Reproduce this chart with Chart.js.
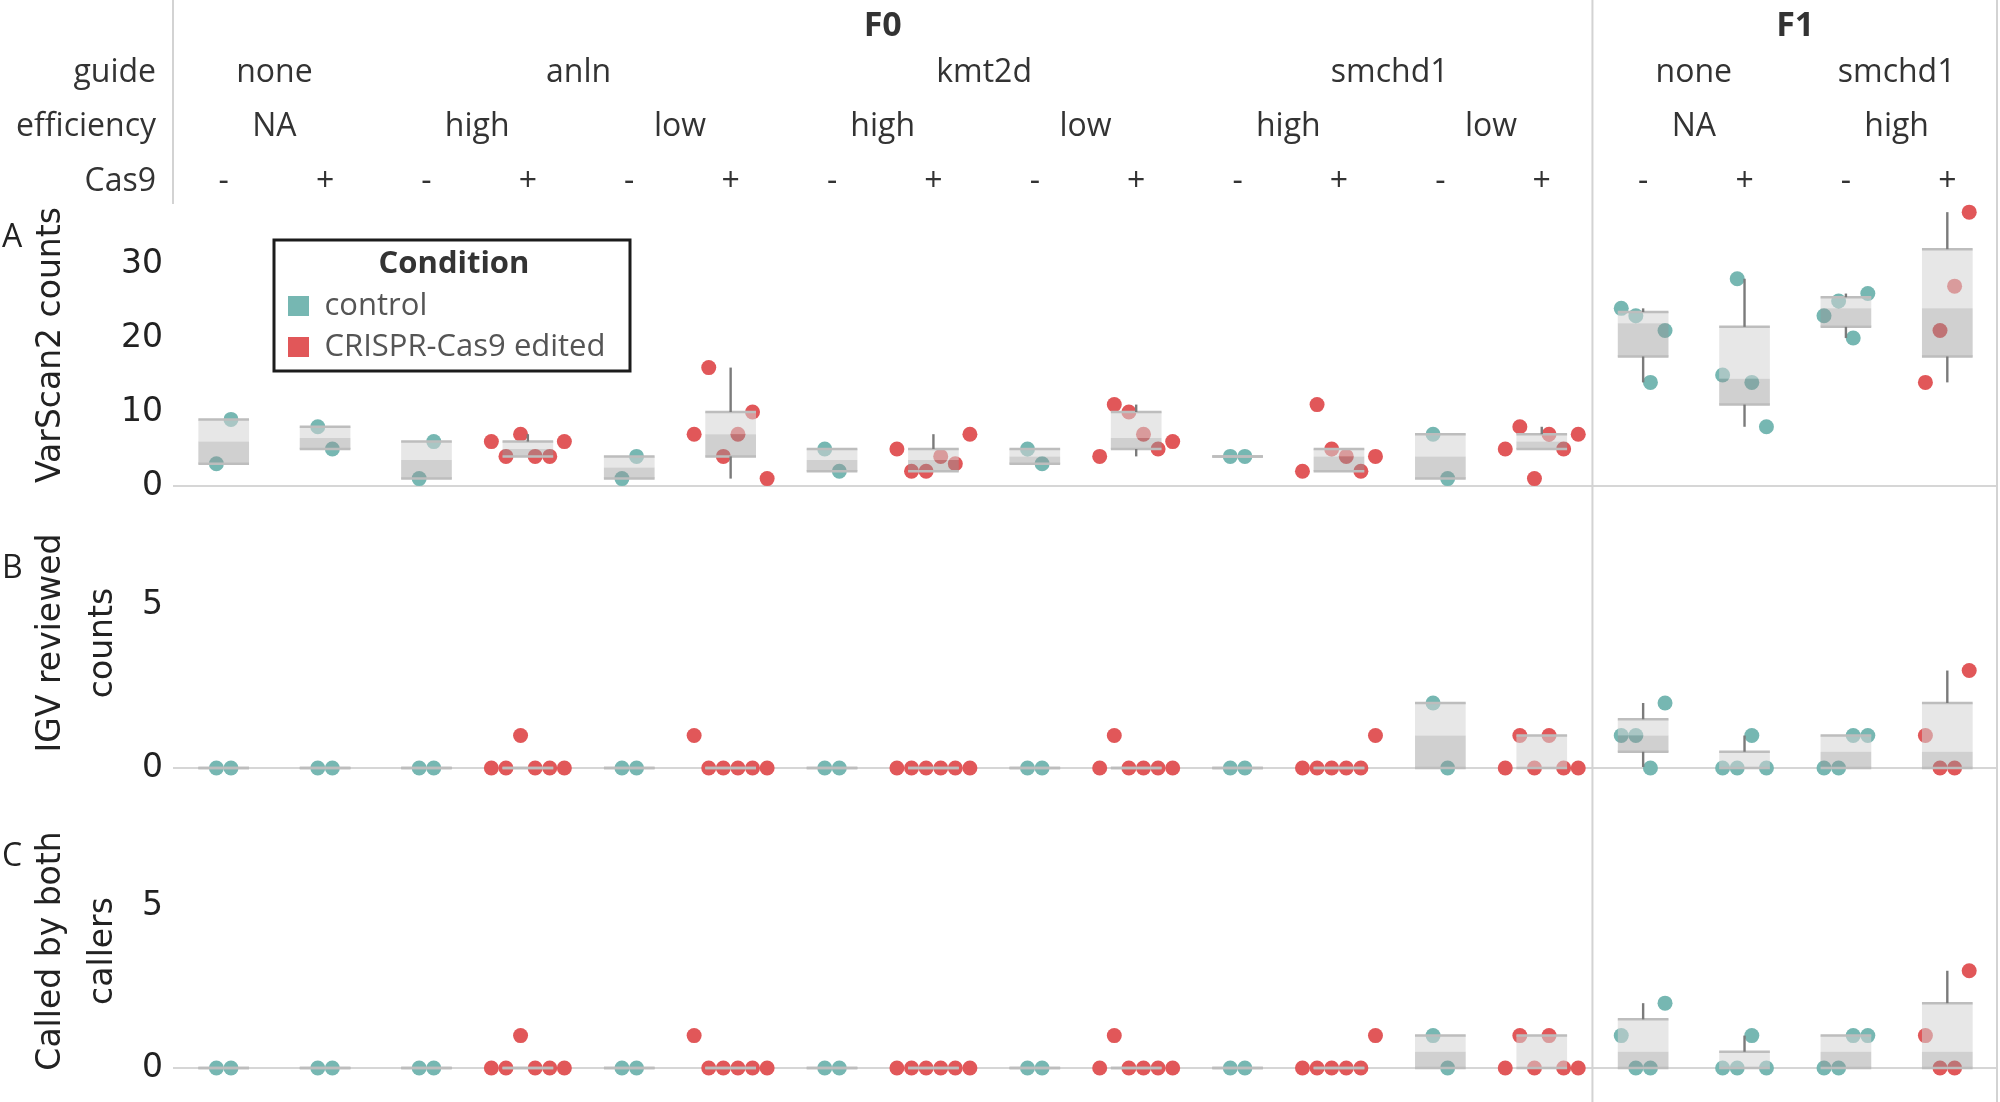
<!DOCTYPE html>
<html>
<head>
<meta charset="utf-8">
<script src="https://cdn.jsdelivr.net/npm/chart.js@4.4.1/dist/chart.umd.min.js"></script>
<style>
  html, body { margin: 0; padding: 0; background: #ffffff; overflow: hidden; }
  #wrap { width: 2000px; height: 1102px; position: relative; }
  #wrap canvas { display: block; }
</style>
</head>
<body>
<div id="wrap"><canvas id="chart"></canvas></div>
<script>
// ---------------- data ----------------
const generationLabels = ['F0', 'F1'];
const generationSpans = [14, 4];
const guideLabels = ['none', 'anln', 'kmt2d', 'smchd1', 'none', 'smchd1'];
const guideSpans = [2, 4, 4, 4, 2, 2];
const efficiencyLabels = ['NA', 'high', 'low', 'high', 'low', 'high', 'low', 'NA', 'high'];
const efficiencySpans = [2, 2, 2, 2, 2, 2, 2, 2, 2];
const cas9Labels = ['-', '+', '-', '+', '-', '+', '-', '+', '-', '+', '-', '+', '-', '+', '-', '+', '-', '+'];
const headerRowTitles = ['guide', 'efficiency', 'Cas9'];

const columnCondition = ['control', 'control', 'control', 'edited', 'control', 'edited', 'control', 'edited',
  'control', 'edited', 'control', 'edited', 'control', 'edited', 'control', 'control', 'control', 'edited'];
const conditionKeys = ['control', 'edited'];
const conditionNames = ['control', 'CRISPR-Cas9 edited'];

// values per column, in sample order (left to right within a column)
const varscanCounts = [
  [3, 9], [8, 5], [1, 6], [6, 4, 7, 4, 4, 6], [1, 4], [7, 16, 4, 7, 10, 1],
  [5, 2], [5, 2, 2, 4, 3, 7], [5, 3], [4, 11, 10, 7, 5, 6], [4, 4], [2, 11, 5, 4, 2, 4],
  [7, 1], [5, 8, 1, 7, 5, 7], [24, 23, 14, 21], [15, 28, 14, 8], [23, 25, 20, 26], [14, 21, 27, 37]
];
const igvCounts = [
  [0, 0], [0, 0], [0, 0], [0, 0, 1, 0, 0, 0], [0, 0], [1, 0, 0, 0, 0, 0],
  [0, 0], [0, 0, 0, 0, 0, 0], [0, 0], [0, 1, 0, 0, 0, 0], [0, 0], [0, 0, 0, 0, 0, 1],
  [2, 0], [0, 1, 0, 1, 0, 0], [1, 1, 0, 2], [0, 0, 1, 0], [0, 0, 1, 1], [1, 0, 0, 3]
];
const bothCallerCounts = [
  [0, 0], [0, 0], [0, 0], [0, 0, 1, 0, 0, 0], [0, 0], [1, 0, 0, 0, 0, 0],
  [0, 0], [0, 0, 0, 0, 0, 0], [0, 0], [0, 1, 0, 0, 0, 0], [0, 0], [0, 0, 0, 0, 0, 1],
  [1, 0], [0, 1, 0, 1, 0, 0], [1, 0, 0, 2], [0, 0, 1, 0], [0, 0, 1, 1], [1, 0, 0, 3]
];

const panelTitles = ['VarScan2 counts', ['IGV reviewed', 'counts'], ['Called by both', 'callers']];
const panelLetters = ['A', 'B', 'C'];
const yTicksA = [0, 10, 20, 30];
const yTicksB = [0, 5];
const yTicksC = [0, 5];

// ---------------- styles ----------------
const conditionColors = { control: '#76b7b2', edited: '#e15759' };
const JITTER = 0.144;
const FONT = 'Open Sans';
const AXFONT = 'DejaVu Sans';

// ---------------- helpers ----------------
function expand(labels, spans) { return labels.flatMap((l, i) => Array(spans[i]).fill(l)); }
function spanCenters(spans) { let s = 0; return spans.map(n => { const c = s + (n - 1) / 2; s += n; return c; }); }
const genCol = expand(generationLabels, generationSpans);
const guideCol = expand(guideLabels, guideSpans);
const effCol = expand(efficiencyLabels, efficiencySpans);
const columnKeys = cas9Labels.map((c, i) => [genCol[i], guideCol[i], effCol[i], c].join(' '));
const NCOL = columnKeys.length;

function median(s) { const n = s.length; const h = Math.floor(n / 2); return n % 2 ? s[h] : (s[h - 1] + s[h]) / 2; }
function boxStats(values) {
  const s = [...values].sort((a, b) => a - b);
  const n = s.length, half = Math.floor(n / 2);
  const q1 = median(s.slice(0, half)), q3 = median(s.slice(n - half)), med = median(s);
  const iqr = q3 - q1;
  const lo = Math.min(...s.filter(v => v >= q1 - 1.5 * iqr));
  const hi = Math.max(...s.filter(v => v <= q3 + 1.5 * iqr));
  return { q1, med, q3, lo, hi };
}

function pointDatasets(values, yAxisID) {
  return conditionKeys.map((cond, k) => ({
    type: 'scatter', label: conditionNames[k], xAxisID: 'xj', yAxisID,
    data: values.flatMap((vals, col) => columnCondition[col] === cond
      ? vals.map((v, i) => ({ x: col + (i - (vals.length - 1) / 2) * JITTER, y: v })) : []),
    backgroundColor: conditionColors[cond], borderColor: conditionColors[cond],
    borderWidth: 0, pointRadius: 7.5, pointHoverRadius: 7.5, clip: false, order: 4
  }));
}

const hingeRadius = ctx => ctx.chart.chartArea ? (ctx.chart.chartArea.right - ctx.chart.chartArea.left) / NCOL * 0.25 : 25;

function boxDatasets(values, yAxisID) {
  const st = values.map(boxStats);
  const barBase = { type: 'bar', xAxisID: 'x', yAxisID, grouped: false, borderWidth: 0, inflateAmount: 0,
    categoryPercentage: 1, barPercentage: 0.5, label: '_box' };
  return [
    Object.assign({}, barBase, { data: st.map(s => [s.q1, s.med]), backgroundColor: 'rgba(150,150,150,0.45)', order: 3 }),
    Object.assign({}, barBase, { data: st.map(s => [s.med, s.q3]), backgroundColor: 'rgba(212,212,212,0.55)', order: 3 }),
    Object.assign({}, barBase, { data: st.map(s => [s.lo, s.q1]), backgroundColor: '#7b7b7b', barThickness: 2.4, order: 1 }),
    Object.assign({}, barBase, { data: st.map(s => [s.q3, s.hi]), backgroundColor: '#7b7b7b', barThickness: 2.4, order: 1 }),
    { type: 'scatter', label: '_hinge', xAxisID: 'xj', yAxisID, order: 2, clip: false,
      data: st.flatMap((s, col) => [{ x: col, y: s.q1 }, { x: col, y: s.q3 }]),
      pointStyle: 'line', borderColor: '#bdbdbd', backgroundColor: '#bdbdbd', borderWidth: 2.5,
      pointRadius: hingeRadius, pointHoverRadius: hingeRadius }
  ];
}

function headerAxis(labels, spans, weight, height, pad, font) {
  const centers = spanCenters(spans);
  return {
    type: 'linear', position: 'top', min: -0.5, max: NCOL - 0.5, bounds: 'data', offset: false, weight,
    grid: { display: false, drawTicks: false }, border: { display: false },
    ticks: { autoSkip: false, maxRotation: 0, minRotation: 0, padding: pad, font, color: '#333333',
      callback: (v, i) => labels[i] },
    afterBuildTicks: s => { s.ticks = centers.map(v => ({ value: v })); },
    afterFit: s => { s.height = height; s.paddingLeft = 0; s.paddingRight = 0; }
  };
}

function panelAxis(ticks, min, max, weight, stackWeight, title) {
  return {
    type: 'linear', position: 'left', stack: 'panels', stackWeight, weight, min, max, bounds: 'data',
    grid: { drawTicks: false, lineWidth: 2, color: c => (c.tick && c.tick.value === 0) ? '#d6d6d6' : 'rgba(0,0,0,0)' },
    border: { display: false },
    ticks: { padding: 10, font: { family: AXFONT, size: 33 }, color: '#222222', callback: v => String(v) },
    afterBuildTicks: s => { s.ticks = ticks.map(v => ({ value: v })); },
    title: { display: true, text: title, color: '#222222', font: { family: AXFONT, size: 33, lineHeight: 1.6 },
      padding: { top: 24.6, bottom: 0 } },
    afterFit: s => { s.width = 173; s.paddingTop = 0; s.paddingBottom = 0; }
  };
}

const headerFont = { family: FONT, size: 32 };

const decorPlugin = {
  id: 'decor',
  afterLayout(chart) {
    const lg = chart.legend;
    if (!lg) return;
    lg.left = 278; lg.top = 240; lg.width = 352; lg.height = 140;
    lg.right = lg.left + lg.width; lg.bottom = lg.top + lg.height;
  },
  beforeDatasetsDraw(chart) {
    const { ctx, chartArea } = chart;
    const xj = chart.scales.xj;
    ctx.save();
    ctx.strokeStyle = '#d3d3d3'; ctx.lineWidth = 2;
    const vline = (x, y0, y1) => { ctx.beginPath(); ctx.moveTo(x, y0); ctx.lineTo(x, y1); ctx.stroke(); };
    vline(chartArea.left, 0, chartArea.top);
    vline(xj.getPixelForValue(generationSpans[0] - 0.5), 0, chart.height);
    vline(chartArea.right - 1, 0, chart.height);
    ctx.restore();
  },
  afterDraw(chart) {
    const { ctx, chartArea } = chart;
    ctx.save();
    // legend frame
    const lg = chart.legend;
    ctx.strokeStyle = '#1c1c1c'; ctx.lineWidth = 3;
    ctx.strokeRect(lg.left - 4, lg.top, lg.width + 4, 131);
    // header row titles
    ctx.font = `${headerFont.size}px "${FONT}"`;
    ctx.fillStyle = '#333333'; ctx.textAlign = 'right'; ctx.textBaseline = 'middle';
    ['xGuide', 'xEff', 'xCas9'].forEach((id, i) => {
      const s = chart.scales[id];
      const y = s.bottom - s.options.ticks.padding - headerFont.size * 1.2 / 2;
      ctx.fillText(headerRowTitles[i], chartArea.left - 17, y);
    });
    // panel letters
    ctx.textAlign = 'left'; ctx.fillStyle = '#222222';
    const letterOffsets = [34, 83, 57];
    ['yA', 'yB', 'yC'].forEach((id, i) => {
      ctx.fillText(panelLetters[i], 2, chart.scales[id].top + letterOffsets[i]);
    });
    ctx.restore();
  }
};

const datasets = [
  ...pointDatasets(varscanCounts, 'yA'),
  ...pointDatasets(igvCounts, 'yB'),
  ...pointDatasets(bothCallerCounts, 'yC'),
  ...boxDatasets(varscanCounts, 'yA'),
  ...boxDatasets(igvCounts, 'yB'),
  ...boxDatasets(bothCallerCounts, 'yC')
];

new Chart(document.getElementById('chart'), {
  type: 'bar',
  data: { labels: columnKeys, datasets },
  plugins: [decorPlugin],
  options: {
    responsive: true, maintainAspectRatio: false, animation: false, devicePixelRatio: 1, events: [],
    layout: { autoPadding: false, padding: { left: 0, right: 2, top: 0, bottom: 0 } },
    plugins: {
      tooltip: { enabled: false },
      legend: {
        display: true, position: 'chartArea', align: 'start',
        labels: {
          font: { family: FONT, size: 31 }, color: '#555555', boxWidth: 21, boxHeight: 20, padding: 10,
          filter: item => item.datasetIndex < 2
        },
        title: { display: true, text: 'Condition', color: '#333333', position: 'center',
          font: { family: FONT, size: 31, weight: 'bold', lineHeight: 1 }, padding: { top: 8.5, bottom: 1 } }
      }
    },
    scales: {
      x: { type: 'category', display: false, offset: true },
      xj: { type: 'linear', display: false, min: -0.5, max: NCOL - 0.5, bounds: 'data', offset: false },
      xGen: headerAxis(generationLabels, generationSpans, 4, 48, 1.3, { family: FONT, size: 34, weight: 'bold' }),
      xGuide: headerAxis(guideLabels, guideSpans, 3, 50, 5.6, headerFont),
      xEff: headerAxis(efficiencyLabels, efficiencySpans, 2, 54, 5.5, headerFont),
      xCas9: headerAxis(cas9Labels, cas9Labels.map(() => 1), 1, 52, 2.8, headerFont),
      yA: panelAxis(yTicksA, 0, 38.1, 3, 282, panelTitles[0]),
      yB: panelAxis(yTicksB, -0.985, 8.68, 2, 314, panelTitles[1]),
      yC: panelAxis(yTicksC, -1.05, 8.27, 1, 302, panelTitles[2])
    }
  }
});
</script>
</body>
</html>
